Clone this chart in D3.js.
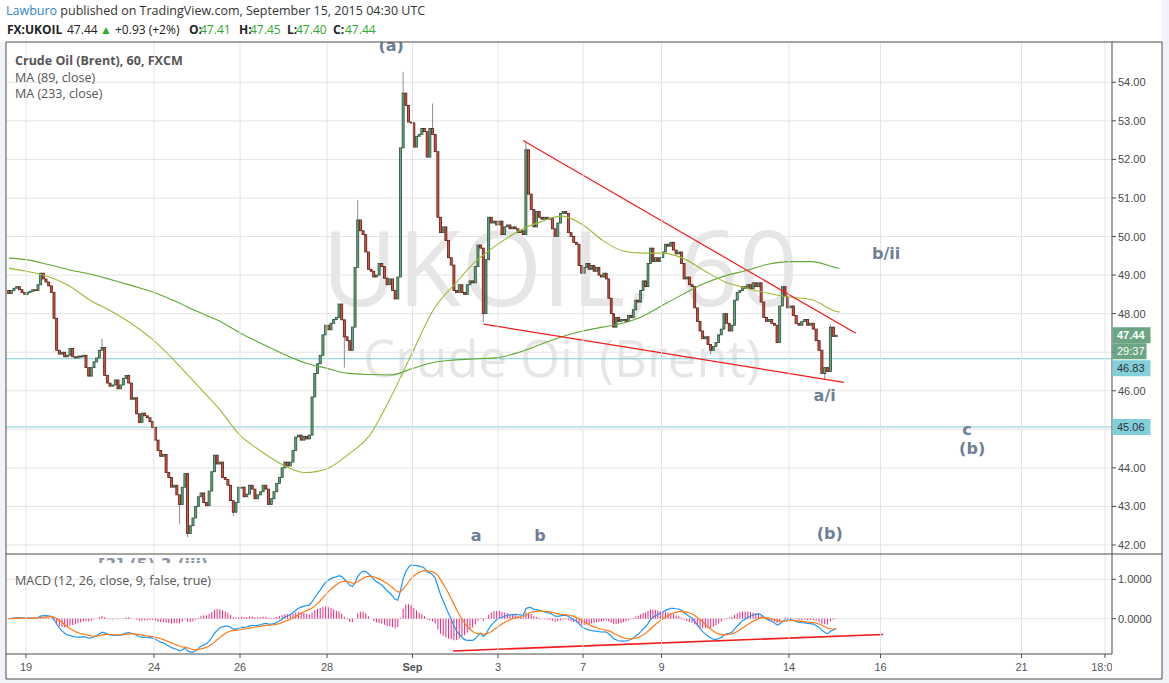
<!DOCTYPE html>
<html><head><meta charset="utf-8">
<script src="https://cdnjs.cloudflare.com/ajax/libs/d3/7.8.5/d3.min.js"></script>
<style>html,body{margin:0;padding:0;background:#f0f3f7}svg{display:block}</style>
</head><body>
<svg id="c" width="1169" height="683"></svg>
<script>
// ---------------- DATA ----------------
const sessions = ["Aug 18","Aug 19","Aug 20","Aug 21","Aug 24","Aug 25","Aug 26","Aug 27","Aug 28","Aug 31",
  "Sep 1","Sep 2","Sep 3","Sep 4","Sep 7","Sep 8","Sep 9","Sep 10","Sep 11","Sep 14","Sep 15"];
const barsPerSession = 16;
const firstOpen = 48.6;
// hourly closes per session (first session shows only its last bars, last session only its first bar)
const closes = [
  [48.52,48.6,48.66,48.7,48.62,48.55,48.5],
  [48.55,48.58,48.62,48.6,48.75,49.05,48.9,48.82,48.72,48.55,47.88,47.05,46.95,47.0,46.88,46.92],
  [47.1,46.88,46.85,46.9,46.88,46.92,46.6,46.38,46.6,46.75,46.85,47.05,47.12,46.4,46.2,46.12],
  [46.15,46.28,46.05,46.15,46.32,46.4,46.2,45.78,45.82,45.4,45.18,45.42,45.35,45.3,45.2,45.05],
  [44.72,44.45,44.3,44.35,43.88,43.75,43.5,43.55,43.3,43.05,43.5,43.85,42.3,42.5,42.7,43.0],
  [43.25,43.35,43.1,43.02,43.4,43.9,44.33,44.1,44.15,43.75,43.7,43.55,43.15,42.85,43.1,43.5],
  [43.5,43.25,43.32,43.55,43.45,43.2,43.3,43.38,43.55,43.45,43.05,43.2,43.38,43.6,43.75,44.0],
  [44.15,44.05,44.15,44.45,44.8,44.85,44.72,44.82,44.75,44.85,45.84,46.45,46.7,46.92,47.45,47.7],
  [47.58,47.75,47.85,47.9,48.25,47.84,47.4,47.3,47.05,47.65,49.2,50.43,50.15,50.05,49.6,49.15],
  [49.1,48.95,49.0,49.3,49.22,48.92,48.75,48.9,48.6,48.38,48.95,52.3,53.72,53.4,52.97,52.95],
  [52.32,52.6,52.65,52.8,52.72,52.06,52.8,52.65,52.2,50.5,50.1,50.25,49.9,49.45,49.26,48.6],
  [48.55,48.75,48.55,48.5,48.75,48.85,48.8,49.22,49.78,49.7,48.0,49.4,50.5,50.35,50.4,50.3],
  [50.4,50.05,50.25,50.3,50.2,50.25,50.2,50.1,50.15,50.05,52.25,51.1,50.7,50.25,50.65,50.5],
  [50.45,50.5,50.45,50.48,50.2,50.0,50.35,50.6,50.65,50.6,50.1,50.0,49.85,49.8,49.25,49.05],
  [49.2,49.3,49.15,49.25,49.1,49.2,49.0,48.95,49.05,48.9,48.4,48.0,47.65,47.9,47.8,47.85],
  [47.85,47.8,47.95,47.9,48.1,48.35,48.3,48.6,48.85,48.7,49.3,49.7,49.35,49.45,49.35,49.45],
  [49.6,49.8,49.75,49.85,49.65,49.55,49.6,49.3,48.9,48.95,48.75,48.7,48.15,47.8,47.55,47.35],
  [47.4,47.2,47.05,47.15,47.25,47.45,47.6,48.0,47.75,47.55,47.7,48.35,48.55,48.6,48.7,48.65],
  [48.75,48.65,48.8,48.7,48.8,48.3,47.9,47.8,47.85,47.75,47.7,47.25,48.2,48.7,48.45,48.15],
  [48.2,47.95,47.75,47.7,47.8,47.85,47.7,47.75,47.6,47.3,47.05,46.45,46.6,46.5,47.65,47.41],
  [47.44]
];
// notable wick extremes: [session, bar, high, low]
const spikes = [
  ["Aug 20",12,47.35,null],["Aug 24",9,null,42.55],["Aug 24",12,null,42.2],["Aug 25",13,null,42.75],
  ["Aug 28",6,null,46.6],["Aug 28",11,50.95,null],["Aug 31",12,54.27,null],["Sep 1",7,53.45,null],
  ["Sep 2",10,null,47.78],["Sep 3",10,52.45,null],["Sep 10",2,null,46.95],["Sep 14",12,null,46.3],
  ["Sep 14",14,47.72,null]
];
// moving averages sampled along the session axis
const maT   = [-0.4,0,0.5,1,1.5,2,2.5,3,3.5,4,4.5,5,5.5,6,6.5,7,7.5,8,8.5,9,9.5,10,10.5,11,11.5,12,12.5,13,13.5,14,14.5,15,15.5,16,16.5,17,17.5,18,18.5,19,19.1];
const ma89  = [49.18,49.1,48.97,48.73,48.35,48.06,47.72,47.3,46.75,46.15,45.55,44.85,44.42,44.07,43.88,43.98,44.35,44.85,45.85,47.0,48.12,48.78,49.38,49.8,50.15,50.38,50.53,50.3,49.9,49.63,49.57,49.57,49.44,49.12,48.82,48.66,48.53,48.43,48.36,48.07,48.04];
const ma233 = [49.44,49.4,49.28,49.14,49.03,48.88,48.72,48.55,48.32,48.06,47.82,47.5,47.22,46.95,46.72,46.58,46.45,46.42,46.41,46.58,46.74,46.8,46.83,46.86,47.0,47.2,47.4,47.55,47.65,47.75,47.92,48.2,48.5,48.78,48.98,49.12,49.28,49.35,49.35,49.2,49.17];
// axis ticks
const tickLabels   = ["19","24","26","28","Sep","3","7","9","14","16","21","18:00"];
const tickSessions = [0,3,5,7,9,11,13,15,18,20,23,23.75];
const priceTicks = [42,43,44,45,46,47,48,49,50,51,52,53,54];
const macdTicks = [0,1];
// horizontal levels and tags
const levels = [46.83,45.06];
const lastPrice = 47.44;
const countdown = "29:37";
// trend lines: [t1, p1, t2, p2]
const trendUpper = [11.59,52.49,19.46,47.49];
const trendLower = [10.66,47.73,19.20,46.22];
const trendMacd  = [9.95,-0.82,20.05,-0.40];
// wave labels
const annoText = ["(a)","b/ii","a/i","c","(b)","(b)","a","b"];
const annoT    = [8.5,20.12,18.78,21.84,21.95,18.89,10.49,11.99];
const annoP    = [54.81,49.42,45.73,44.86,44.36,42.16,42.1,42.1];
const hiddenLabel = "[3] (5) 3 (iii)";
const hiddenT = 2.98, hiddenP = 41.35;

// ---------------- LAYOUT ----------------
const W=1169,H=683, L=6, R=1112, T=42, MB=554, PB=654, AB=679, OR=1162;
const svg = d3.select("#c");
const x = d3.scaleLinear().domain(tickSessions).range([26,154,240,327,412.5,498,583,661.5,789,880.5,1021.5,1105]);
const y = d3.scaleLinear().domain([42,54]).range([545,82.3]);
const ym = d3.scaleLinear().domain([0,1]).range([618.7,579.3]);
const sessIdx = s => sessions.indexOf(s) - 1;

// build bars
const bars=[]; let prev=firstOpen;
closes.forEach((arr,k)=>{
  const s=k-1, off = k===0 ? barsPerSession-arr.length : 0;
  arr.forEach((c,i)=>{
    const b={s, i:i+off, t:s+(i+off+0.5)/barsPerSession, o:prev, c};
    b.h=Math.max(b.o,b.c); b.l=Math.min(b.o,b.c);
    bars.push(b); prev=c;
  });
});
spikes.forEach(([s,i,h,l])=>{
  const b=bars.find(d=>d.s===sessIdx(s)&&d.i===i);
  if(b){ if(h!=null) b.h=Math.max(b.h,h); if(l!=null) b.l=Math.min(b.l,l); }
});
// MACD (12,26,9)
function ema(a,n){const k=2/(n+1);let e=a[0];return a.map(v=>(e=v*k+e*(1-k)));}
const cl=bars.map(b=>b.c), e12=ema(cl,12), e26=ema(cl,26);
const macd=e12.map((v,i)=>v-e26[i]), sig=ema(macd,9), hist=macd.map((v,i)=>v-sig[i]);

// ---------------- DRAW ----------------
svg.append("rect").attr("width",W).attr("height",H).attr("fill","#f0f3f7");
svg.append("rect").attr("width",OR).attr("height",T).attr("fill","#fff");
svg.append("rect").attr("x",L).attr("y",T).attr("width",OR-L).attr("height",AB-T).attr("fill","#fff");
const defs=svg.append("defs");
defs.append("clipPath").attr("id","cm").append("rect").attr("x",L).attr("y",T).attr("width",R-L).attr("height",MB-T);
defs.append("clipPath").attr("id","cd").append("rect").attr("x",L).attr("y",MB).attr("width",R-L).attr("height",PB-MB);
defs.append("clipPath").attr("id","cx").append("rect").attr("x",L).attr("y",PB).attr("width",R-L).attr("height",AB-PB);
defs.append("clipPath").attr("id","ch").append("rect").attr("x",L).attr("y",MB+1).attr("width",R-L).attr("height",8);

const gm=svg.append("g").attr("clip-path","url(#cm)");
const gd=svg.append("g").attr("clip-path","url(#cd)");
const grid="#e4e4e4";
priceTicks.forEach(p=>gm.append("line").attr("x1",L).attr("x2",R).attr("y1",y(p)).attr("y2",y(p)).attr("stroke",grid));
macdTicks.forEach(v=>gd.append("line").attr("x1",L).attr("x2",R).attr("y1",ym(v)).attr("y2",ym(v)).attr("stroke",grid));
tickSessions.forEach(t=>svg.append("line").attr("x1",x(t)).attr("x2",x(t)).attr("y1",T).attr("y2",PB).attr("stroke",grid));

// watermark
gm.append("text").attr("x",560).attr("y",306).attr("text-anchor","middle").attr("font-family","Open Sans").attr("font-size",104).attr("fill","#e6e6e6").text("UKOIL, 60");
gm.append("text").attr("x",562).attr("y",377).attr("text-anchor","middle").attr("font-family","Open Sans").attr("font-size",51).attr("fill","#e6e6e6").text("Crude Oil (Brent)");

// levels
levels.forEach(v=>gm.append("line").attr("x1",L).attr("x2",R).attr("y1",y(v)).attr("y2",y(v)).attr("stroke","#7fcdd9").attr("stroke-width",1));

// candles
const step=t=>(x(Math.floor(t)+1)-x(Math.floor(t)))/barsPerSession;
const gc=gm.append("g");
gc.selectAll("line.w").data(bars).join("line").attr("class","w")
  .attr("x1",d=>x(d.t)).attr("x2",d=>x(d.t)).attr("y1",d=>y(d.h)).attr("y2",d=>y(d.l))
  .attr("stroke","#737375").attr("stroke-width",0.8);
gc.selectAll("rect").data(bars).join("rect")
  .attr("x",d=>x(d.t)-step(d.t)*0.38).attr("width",d=>step(d.t)*0.76)
  .attr("y",d=>y(Math.max(d.o,d.c))).attr("height",d=>Math.max(1,Math.abs(y(d.o)-y(d.c))))
  .attr("fill",d=>d.c>=d.o?"#6ba583":"#d75442")
  .attr("stroke",d=>d.c>=d.o?"#225437":"#5b1a13").attr("stroke-width",0.8);

// moving averages
const maLine=d3.line().x(d=>x(d[0])).y(d=>y(d[1])).curve(d3.curveMonotoneX);
gm.append("path").attr("d",maLine(maT.map((t,i)=>[t,ma233[i]]))).attr("fill","none").attr("stroke","#62a832").attr("stroke-width",1.1);
gm.append("path").attr("d",maLine(maT.map((t,i)=>[t,ma89[i]]))).attr("fill","none").attr("stroke","#9cba38").attr("stroke-width",1.1);

// trend lines
[trendUpper,trendLower].forEach(a=>gm.append("line").attr("x1",x(a[0])).attr("y1",y(a[1])).attr("x2",x(a[2])).attr("y2",y(a[3])).attr("stroke","#f51a1a").attr("stroke-width",1.2));

// wave labels
const lab=svg.append("g").attr("clip-path","url(#cm)").attr("font-family","DejaVu Sans").attr("font-weight","bold").attr("font-size",16).attr("fill","#6e8096").attr("text-anchor","middle");
annoText.forEach((s,i)=>lab.append("text").attr("x",x(annoT[i])).attr("y",y(annoP[i])).text(s));
svg.append("text").attr("clip-path","url(#ch)").attr("x",x(hiddenT)).attr("y",y(hiddenP)).attr("font-family","DejaVu Sans").attr("font-weight","bold").attr("font-size",16).attr("fill","#8a97a6").attr("text-anchor","middle").text(hiddenLabel);

// legends
const lg=svg.append("g").attr("font-family","Open Sans").attr("fill","#555");
lg.append("text").attr("x",15).attr("y",65).attr("font-size",12.5).attr("font-weight","bold").text("Crude Oil (Brent), 60, FXCM");
lg.append("text").attr("x",15).attr("y",82).attr("font-size",12.5).text("MA (89, close)");
lg.append("text").attr("x",15).attr("y",98).attr("font-size",12.5).text("MA (233, close)");
lg.append("text").attr("x",15).attr("y",585).attr("font-size",12.5).text("MACD (12, 26, close, 9, false, true)");

// MACD pane
gd.selectAll("line.h").data(bars).join("line").attr("class","h")
  .attr("x1",d=>x(d.t)).attr("x2",d=>x(d.t)).attr("y1",ym(0)).attr("y2",(d,i)=>ym(hist[i]))
  .attr("stroke","#f2247c").attr("stroke-width",1);
const ml=d3.line().x(d=>x(d[0])).y(d=>ym(d[1]));
gd.append("path").attr("d",ml(bars.map((b,i)=>[b.t,macd[i]]))).attr("fill","none").attr("stroke","#2196f3").attr("stroke-width",1.2);
gd.append("path").attr("d",ml(bars.map((b,i)=>[b.t,sig[i]]))).attr("fill","none").attr("stroke","#ff7a14").attr("stroke-width",1.2);
gd.append("line").attr("x1",x(trendMacd[0])).attr("y1",ym(trendMacd[1])).attr("x2",x(trendMacd[2])).attr("y2",ym(trendMacd[3])).attr("stroke","#f51a1a").attr("stroke-width",1.6);

// frame
const fc="#4d4d4d";
[[L,T,OR,T],[L,T,L,AB],[L,AB,OR,AB],[OR,T,OR,AB],[R,T,R,PB],[L,MB,OR,MB],[L,PB,R,PB]].forEach(a=>
  svg.append("line").attr("x1",a[0]).attr("y1",a[1]).attr("x2",a[2]).attr("y2",a[3]).attr("stroke",fc).attr("stroke-width",1));

// price axis
const ax=svg.append("g").attr("font-family","Liberation Sans, Arial").attr("font-size",11).attr("fill","#4a4a4a");
priceTicks.forEach(p=>{
  ax.append("line").attr("x1",R).attr("x2",R+4).attr("y1",y(p)).attr("y2",y(p)).attr("stroke",fc);
  ax.append("text").attr("x",R+6).attr("y",y(p)+4).text(p.toFixed(2));
});
macdTicks.forEach(v=>{
  ax.append("line").attr("x1",R).attr("x2",R+4).attr("y1",ym(v)).attr("y2",ym(v)).attr("stroke",fc);
  ax.append("text").attr("x",R+6).attr("y",ym(v)+4).text(v.toFixed(4));
});
// time axis
const tx=svg.append("g").attr("clip-path","url(#cx)").attr("font-family","Liberation Sans, Arial").attr("font-size",11).attr("fill","#555").attr("text-anchor","middle");
tickLabels.forEach((s,i)=>{
  tx.append("line").attr("x1",x(tickSessions[i])).attr("x2",x(tickSessions[i])).attr("y1",PB).attr("y2",PB+4).attr("stroke",fc);
  tx.append("text").attr("x",x(tickSessions[i])).attr("y",671).attr("font-weight",s==="Sep"?"bold":"normal").text(s);
});

// tags
const tags=[{v:lastPrice,txt:lastPrice.toFixed(2),fill:"#6ba583",tc:"#fff",w:38,bold:true},
  {v:null,txt:countdown,fill:"#6ba583",tc:"#fff",w:34},
  ...levels.map(v=>({v,txt:v.toFixed(2),fill:"#80cfdb",tc:"#333",w:38}))];
let bottom=-1e9; const th=16;
tags.forEach(tg=>{
  let c = tg.v==null ? bottom+th/2 : Math.max(y(tg.v), bottom+th/2+1);
  if(tg.v!=null && y(tg.v)-th/2>bottom) c=y(tg.v);
  svg.append("rect").attr("x",R+0.5).attr("y",c-th/2).attr("width",tg.w).attr("height",th).attr("fill",tg.fill);
  svg.append("text").attr("x",R+5).attr("y",c+4).attr("font-family","Liberation Sans, Arial").attr("font-size",11)
    .attr("font-weight",tg.bold?"bold":"normal").attr("fill",tg.tc).text(tg.txt);
  bottom=c+th/2;
});

// header
const hd=svg.append("g").attr("font-family","Open Sans").attr("font-size",12.5);
const h1=hd.append("text").attr("x",6).attr("y",15).attr("fill","#333");
h1.append("tspan").attr("fill","#2e86c8").text("Lawburo");
h1.append("tspan").text(" published on TradingView.com, September 15, 2015 04:30 UTC");
const seg=[["FX:UKOIL",7,"#222",true],["47.44",67,"#222",false],["▲",100,"#2eaa2e",false],["+0.93 (+2%)",115,"#222",false],
  ["O:",189,"#222",true],["47.41",200,"#2eaa2e",false],["H:",239,"#222",true],["47.45",250,"#2eaa2e",false],
  ["L:",287,"#222",true],["47.40",296,"#2eaa2e",false],["C:",333,"#222",true],["47.44",345,"#2eaa2e",false]];
seg.forEach(s=>hd.append("text").attr("x",s[1]).attr("y",34).attr("fill",s[2]).attr("font-size",12).attr("font-weight",s[3]?"bold":"normal").text(s[0]));
</script>
</body></html>
